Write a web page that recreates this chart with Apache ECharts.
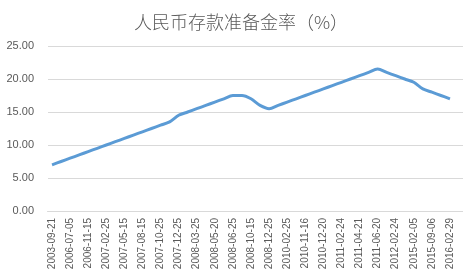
<!DOCTYPE html>
<html><head><meta charset="utf-8">
<script src="https://cdn.jsdelivr.net/npm/echarts@6/dist/echarts.min.js"></script>
<style>html,body{margin:0;padding:0;background:#fff}#c{width:471px;height:277px}</style>
</head><body><div id="c"></div>
<script>
const titleText = '人民币存款准备金率（%）';
const dates = ['2003-09-21','2004-04-25','2006-07-05','2006-08-15','2006-11-15','2007-01-15','2007-02-25','2007-04-16','2007-05-15','2007-06-05','2007-08-15','2007-09-25','2007-10-25','2007-11-26','2007-12-25','2008-01-25','2008-03-25','2008-04-25','2008-05-20','2008-06-15','2008-06-25','2008-09-25','2008-10-15','2008-12-05','2008-12-25','2010-01-18','2010-02-25','2010-05-10','2010-11-16','2010-11-29','2010-12-20','2011-01-20','2011-02-24','2011-03-25','2011-04-21','2011-05-18','2011-06-20','2011-12-05','2012-02-24','2012-05-18','2015-02-05','2015-04-20','2015-09-06','2015-10-24','2016-02-29'];
const rates = [7,7.5,8,8.5,9,9.5,10,10.5,11,11.5,12,12.5,13,13.5,14.5,15,15.5,16,16.5,17,17.5,17.5,17,16,15.5,16,16.5,17,17.5,18,18.5,19,19.5,20,20.5,21,21.5,21,20.5,20,19.5,18.5,18,17.5,17];
const yMin = 0, yMax = 25, yStep = 5;

const chart = echarts.init(document.getElementById('c'), null, {renderer:'canvas'});
chart.setOption({
  animation:false,
  backgroundColor:'#fff',
  title:{text:titleText,left:236,top:8,textAlign:'center',
    textStyle:{fontFamily:'Noto Sans CJK SC',fontSize:18,fontWeight:300,color:'#595959'}},
  grid:[
    {left:48,right:8,top:46,bottom:66},
    {left:47.5,right:16.5,top:46,bottom:66}
  ],
  xAxis:[
    {gridIndex:0,type:'value',show:false,min:0,max:1},
    {gridIndex:1,type:'category',data:dates,boundaryGap:true,
      axisLine:{show:true,lineStyle:{color:'#D9D9D9'}},axisTick:{show:false},
      axisLabel:{interval:1,rotate:90,margin:7,fontSize:10,color:'#595959',fontFamily:'Liberation Sans'}}
  ],
  yAxis:[
    {gridIndex:0,type:'value',min:yMin,max:yMax,interval:yStep,
      axisLine:{show:false},axisTick:{show:false},
      axisLabel:{margin:14,fontSize:11,color:'#595959',fontFamily:'Liberation Sans',formatter:v=>v.toFixed(2)},
      splitLine:{lineStyle:{color:'#D9D9D9',width:1}}},
    {gridIndex:1,type:'value',min:yMin,max:yMax,interval:yStep,show:false,splitLine:{show:false}}
  ],
  series:[{type:'line',xAxisIndex:1,yAxisIndex:1,data:rates,smooth:0.3,showSymbol:false,
    lineStyle:{color:'#5B9BD5',width:3},itemStyle:{color:'#5B9BD5'}}]
});
</script></body></html>
